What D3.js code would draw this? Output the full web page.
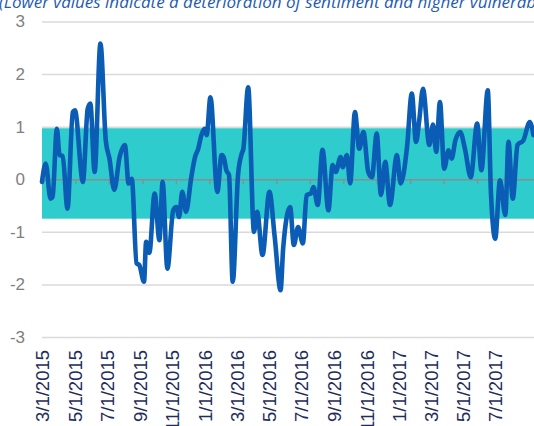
<!DOCTYPE html>
<html>

<head>
    <meta charset="utf-8">
    <title>Sentiment Index</title>
    <script src="https://d3js.org/d3.v7.min.js"></script>
    <style>
        body {
            margin: 0;
            background: #ffffff;
        }

        .y-axis text {
            font-family: "Liberation Sans", Arial, sans-serif;
            font-size: 17px;
            fill: #7f7f7f;
        }

        .x-labels text {
            font-family: "Liberation Sans", Arial, sans-serif;
            font-size: 18.5px;
            fill: #1f2d5c;
        }

        .note {
            font-family: "Open Sans", sans-serif;
            font-style: italic;
            font-size: 17px;
            fill: #1f5bb0;
        }
    </style>
</head>

<body>
    <svg width="534" height="426" id="chart"></svg>
    <script>

        // readings of the index (turning points)
        const dates = [
            "3/1/2015", "3/8/2015", "3/17/2015", "3/21/2015", "3/29/2015", "4/3/2015", "4/9/2015", "4/18/2015",
            "4/28/2015", "5/2/2015", "5/17/2015", "5/26/2015", "5/31/2015", "6/8/2015", "6/19/2015", "6/29/2015",
            "7/6/2015", "7/15/2015", "7/25/2015", "8/4/2015", "8/11/2015", "8/17/2015", "8/26/2015", "8/31/2015",
            "9/9/2015", "9/13/2015", "9/19/2015", "9/29/2015", "10/8/2015", "10/14/2015", "10/23/2015", "11/3/2015",
            "11/9/2015", "11/14/2015", "11/20/2015", "11/27/2015", "12/7/2015", "12/14/2015", "12/20/2015", "12/26/2015",
            "1/1/2016", "1/5/2016", "1/12/2016", "1/25/2016", "2/2/2016", "2/6/2016", "2/11/2016", "2/16/2016",
            "2/23/2016", "3/4/2016", "3/11/2016", "3/14/2016", "3/23/2016", "4/3/2016", "4/9/2016", "4/19/2016",
            "5/2/2016", "5/12/2016", "5/23/2016", "5/28/2016", "6/10/2016", "6/17/2016", "6/25/2016", "7/4/2016",
            "7/11/2016", "7/19/2016", "7/24/2016", "8/1/2016", "8/10/2016", "8/21/2016", "8/29/2016", "9/4/2016",
            "9/13/2016", "9/17/2016", "9/25/2016", "10/1/2016", "10/10/2016", "10/18/2016", "10/26/2016", "11/4/2016",
            "11/11/2016", "11/20/2016", "11/28/2016", "12/6/2016", "12/15/2016", "12/28/2016", "1/4/2017", "1/16/2017",
            "1/25/2017", "2/2/2017", "2/8/2017", "2/15/2017", "2/27/2017", "3/6/2017", "3/12/2017", "3/19/2017",
            "3/27/2017", "4/4/2017", "4/10/2017", "4/17/2017", "4/26/2017", "5/5/2017", "5/16/2017", "5/28/2017",
            "6/5/2017", "6/17/2017", "6/23/2017", "7/1/2017", "7/10/2017", "7/20/2017", "7/26/2017", "8/3/2017",
            "8/12/2017", "8/23/2017", "9/4/2017", "9/11/2017"
        ]

        const values = [
            -0.05, 0.30, -0.37, -0.33, 0.96, 0.46, 0.44, -0.56,
            1.28, 1.31, -0.05, 1.34, 1.44, 0.14, 2.58, 0.74,
            0.39, -0.20, 0.42, 0.65, -0.08, 0.01, -1.60, -1.63,
            -1.95, -1.19, -1.40, -0.27, -1.16, -0.05, -1.70, -0.59,
            -0.53, -0.72, -0.24, -0.62, 0.04, 0.42, 0.58, 0.84,
            0.96, 0.84, 1.56, -0.24, 0.46, 0.42, 0.17, 0.08,
            -1.95, 0.08, 0.49, 0.58, 1.75, -1.00, -0.62, -1.44,
            -0.24, -1.10, -2.11, -1.30, -0.53, -1.25, -0.91, -1.22,
            -0.30, -0.27, -0.15, -0.49, 0.56, -0.59, 0.27, 0.14,
            0.42, 0.23, 0.46, -0.08, 1.28, 0.58, 0.90, 0.14,
            0.04, 0.87, -0.30, 0.33, -0.49, 0.46, -0.08, 0.61,
            1.63, 0.71, 1.12, 1.72, 0.65, 1.04, 0.52, 1.47,
            0.20, 0.55, 0.39, 0.74, 0.90, 0.58, 0.04, 1.06,
            0.17, 1.69, -0.27, -1.13, -0.02, -0.68, 0.71, -0.37,
            0.65, 0.74, 1.09, 0.84
        ]

        // shaded normal range
        const bandHigh = 0.97
        const bandLow = -0.75

        const yTicks = [-3, -2, -1, 0, 1, 2, 3]
        const xLabelDates = [
            "3/1/2015", "5/1/2015", "7/1/2015", "9/1/2015", "11/1/2015", "1/1/2016", "3/1/2016", "5/1/2016",
            "7/1/2016", "9/1/2016", "11/1/2016", "1/1/2017", "3/1/2017", "5/1/2017", "7/1/2017"
        ]
        const axisStart = "3/1/2015"
        const axisEnd = "9/12/2017"
        const tickStepDays = 63

        const noteText = "(Lower values indicate a deterioration of sentiment and higher vulnerability)"

        const parseDate = d3.timeParse("%m/%d/%Y")
        const fmtDate = d3.timeFormat("%-m/%-d/%Y")

        const data = dates.map((d, i) => ({ date: parseDate(d), value: values[i] }))

        const svg = d3.select("#chart")
        const width = +svg.attr("width")
        const height = +svg.attr("height")
        const margin = { "top": 21.5, "bottom": 89, "left": 42, "right": 0 }

        const xScale = d3.scaleTime()
            .domain([parseDate(axisStart), parseDate(axisEnd)])
            .range([margin.left, width - margin.right])

        const yScale = d3.scaleLinear()
            .domain([-3, 3])
            .range([height - margin.bottom, margin.top])

        // gridlines + y labels
        const yAxis = d3.axisLeft(yScale)
            .tickValues(yTicks)
            .tickSize(-(width - margin.left - margin.right))
            .tickPadding(17)
            .tickFormat(d => String(d))

        const gy = svg.append("g")
            .attr("class", "y-axis")
            .attr("transform", `translate(${margin.left},0)`)
            .call(yAxis)
        gy.select(".domain").remove()
        gy.selectAll("line")
            .attr("stroke", "#dadada")
            .attr("stroke-width", 1.5)

        // band
        svg.append("rect")
            .attr("x", xScale.range()[0])
            .attr("y", yScale(bandHigh))
            .attr("width", xScale.range()[1] - xScale.range()[0])
            .attr("height", yScale(bandLow) - yScale(bandHigh))
            .attr("fill", "#2ecccc")

        // zero axis with small tick marks
        const tickDates = d3.range(0, 1000, tickStepDays)
            .map(n => d3.timeDay.offset(parseDate(axisStart), n))
            .filter(d => d <= xScale.domain()[1])
            .slice(1)

        const zeroAxis = d3.axisBottom(xScale)
            .tickValues(tickDates)
            .tickSizeInner(5)
            .tickSizeOuter(0)
            .tickFormat("")

        const gz = svg.append("g")
            .attr("transform", `translate(0,${yScale(0)})`)
            .call(zeroAxis)
        gz.select(".domain").attr("stroke", "#8c8c8c").attr("stroke-width", 1.3)
        gz.selectAll("line").attr("stroke", "#8c8c8c").attr("stroke-width", 1.3)

        // rotated date labels
        const labelAxis = d3.axisBottom(xScale)
            .tickValues(xLabelDates.map(parseDate))
            .tickSize(0)
            .tickFormat(fmtDate)

        const gx = svg.append("g")
            .attr("class", "x-labels")
            .attr("transform", `translate(0,350)`)
            .call(labelAxis)
        gx.select(".domain").remove()
        gx.selectAll("text")
            .attr("transform", "rotate(-90)")
            .attr("x", 0)
            .attr("y", 0)
            .attr("dy", "0.36em")
            .attr("text-anchor", "end")

        // index line
        const line = d3.line()
            .x(d => xScale(d.date))
            .y(d => yScale(d.value))
            .curve(d3.curveMonotoneX)

        svg.append("path")
            .datum(data)
            .attr("d", line)
            .attr("fill", "none")
            .attr("stroke", "#0b5cb4")
            .attr("stroke-width", 4.6)
            .attr("stroke-linejoin", "round")
            .attr("stroke-linecap", "round")

        svg.append("text")
            .attr("class", "note")
            .attr("x", -1)
            .attr("y", 7.5)
            .text(noteText)

    </script>
</body>

</html>
